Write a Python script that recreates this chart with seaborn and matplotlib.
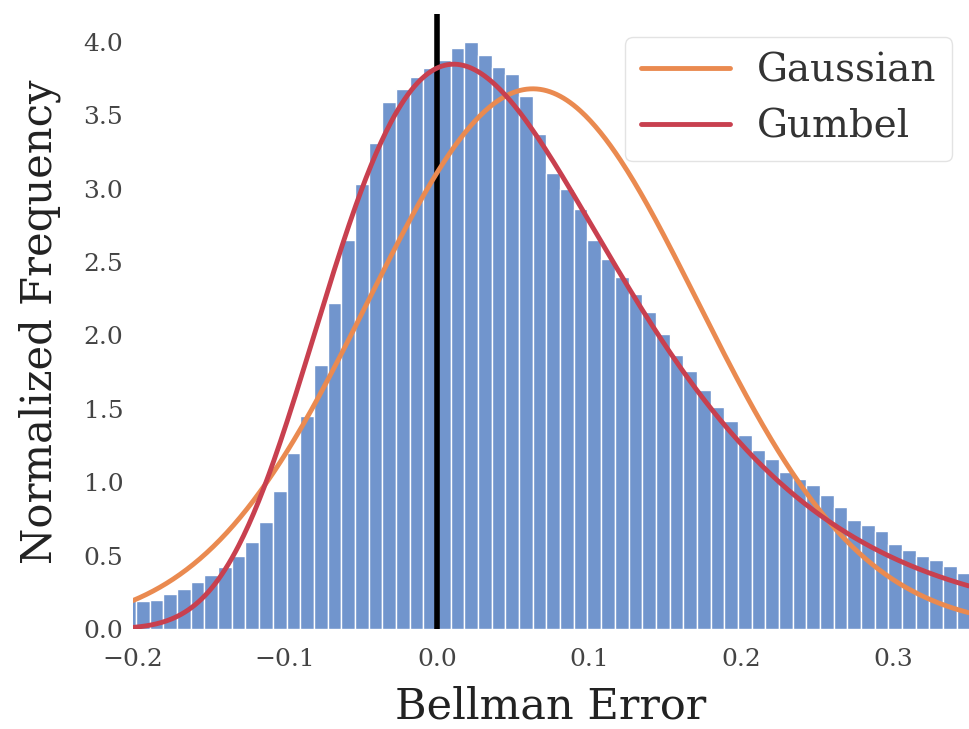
import numpy as np
import pandas as pd
import matplotlib
matplotlib.use("Agg")
import matplotlib.pyplot as plt
import seaborn as sns

# Histogram of Bellman errors (normalized frequency per bin)
bin_start = -0.207
bin_width = 0.009
freq = [
    0.21, 0.19, 0.20, 0.24, 0.27, 0.32, 0.37, 0.42, 0.50, 0.59,
    0.73, 0.94, 1.20, 1.45, 1.80, 2.22, 2.65, 3.03, 3.31, 3.59,
    3.68, 3.76, 3.82, 3.88, 3.96, 4.00, 3.91, 3.83, 3.78, 3.63,
    3.37, 3.11, 3.00, 2.86, 2.65, 2.52, 2.40, 2.28, 2.16, 2.01,
    1.87, 1.76, 1.63, 1.51, 1.42, 1.32, 1.22, 1.16, 1.07, 1.02,
    0.98, 0.91, 0.83, 0.74, 0.71, 0.67, 0.58, 0.54, 0.50, 0.47,
    0.43, 0.38,
]

# Fitted distribution parameters
gauss_mean, gauss_std = 0.063, 0.1084
gumbel_loc, gumbel_scale = 0.011, 0.0956

x_ticks = [-0.2, -0.1, 0.0, 0.1, 0.2, 0.3]
y_ticks = [0.0, 0.5, 1.0, 1.5, 2.0, 2.5, 3.0, 3.5, 4.0]

sns.set_theme(style="white")
plt.rcParams["font.family"] = ["DejaVu Serif"]

W, H = 970, 729
fig = plt.figure(figsize=(W / 100, H / 100), dpi=100)
ax = fig.add_axes([133 / W, (H - 629) / H, (969 - 133) / W, (629 - 14) / H])

edges = bin_start + bin_width * np.arange(len(freq) + 1)
hist_df = pd.DataFrame({
    "error": 0.5 * (edges[:-1] + edges[1:]),
    "freq": freq,
})
sns.histplot(data=hist_df, x="error", weights="freq", bins=list(edges),
             stat="count", color="#7195cd", alpha=1.0, edgecolor="white",
             linewidth=1.0, ax=ax)

ax.axvline(0.0, color="black", lw=4.0, zorder=3)

xs = np.linspace(-0.2, 0.35, 500)
gauss_pdf = np.exp(-0.5 * ((xs - gauss_mean) / gauss_std) ** 2) / (gauss_std * np.sqrt(2 * np.pi))
z = (xs - gumbel_loc) / gumbel_scale
gumbel_pdf = np.exp(-(z + np.exp(-z))) / gumbel_scale
curve_df = pd.DataFrame({"x": xs, "gauss": gauss_pdf, "gumbel": gumbel_pdf})

sns.lineplot(data=curve_df, x="x", y="gauss", color="#ea8a50", lw=3.5,
             label="Gaussian", ax=ax, zorder=4, sort=False, estimator=None)
sns.lineplot(data=curve_df, x="x", y="gumbel", color="#c8404f", lw=3.5,
             label="Gumbel", ax=ax, zorder=5, sort=False, estimator=None)

ax.set_xlim(-0.2, 0.35)
ax.set_ylim(0, 4.19)
ax.set_xticks(x_ticks)
ax.set_yticks(y_ticks)
ax.set_xticklabels([f"{t:.1f}".replace("-", "\u2212") for t in x_ticks])
ax.set_yticklabels([f"{t:.1f}" for t in y_ticks])
ax.tick_params(axis="both", labelsize=18, colors="#444444", length=0)
ax.tick_params(axis="x", pad=14)
ax.tick_params(axis="y", pad=7)
for s in ax.spines.values():
    s.set_visible(False)

ax.set_xlabel("Bellman Error", fontsize=31, color="#222222", labelpad=10)
ax.set_ylabel("Normalized Frequency", fontsize=30, color="#222222", labelpad=16)

leg = ax.legend(loc="upper right", fontsize=28, frameon=True, handlelength=2.3,
                handletextpad=0.7, labelspacing=0.5, borderpad=0.4,
                borderaxespad=0.0, bbox_to_anchor=(0.980, 0.963))
leg.get_frame().set_edgecolor("#dddddd")
leg.get_frame().set_facecolor("white")
for t in leg.get_texts():
    t.set_color("#333333")

fig.savefig("out.png", dpi=100)
